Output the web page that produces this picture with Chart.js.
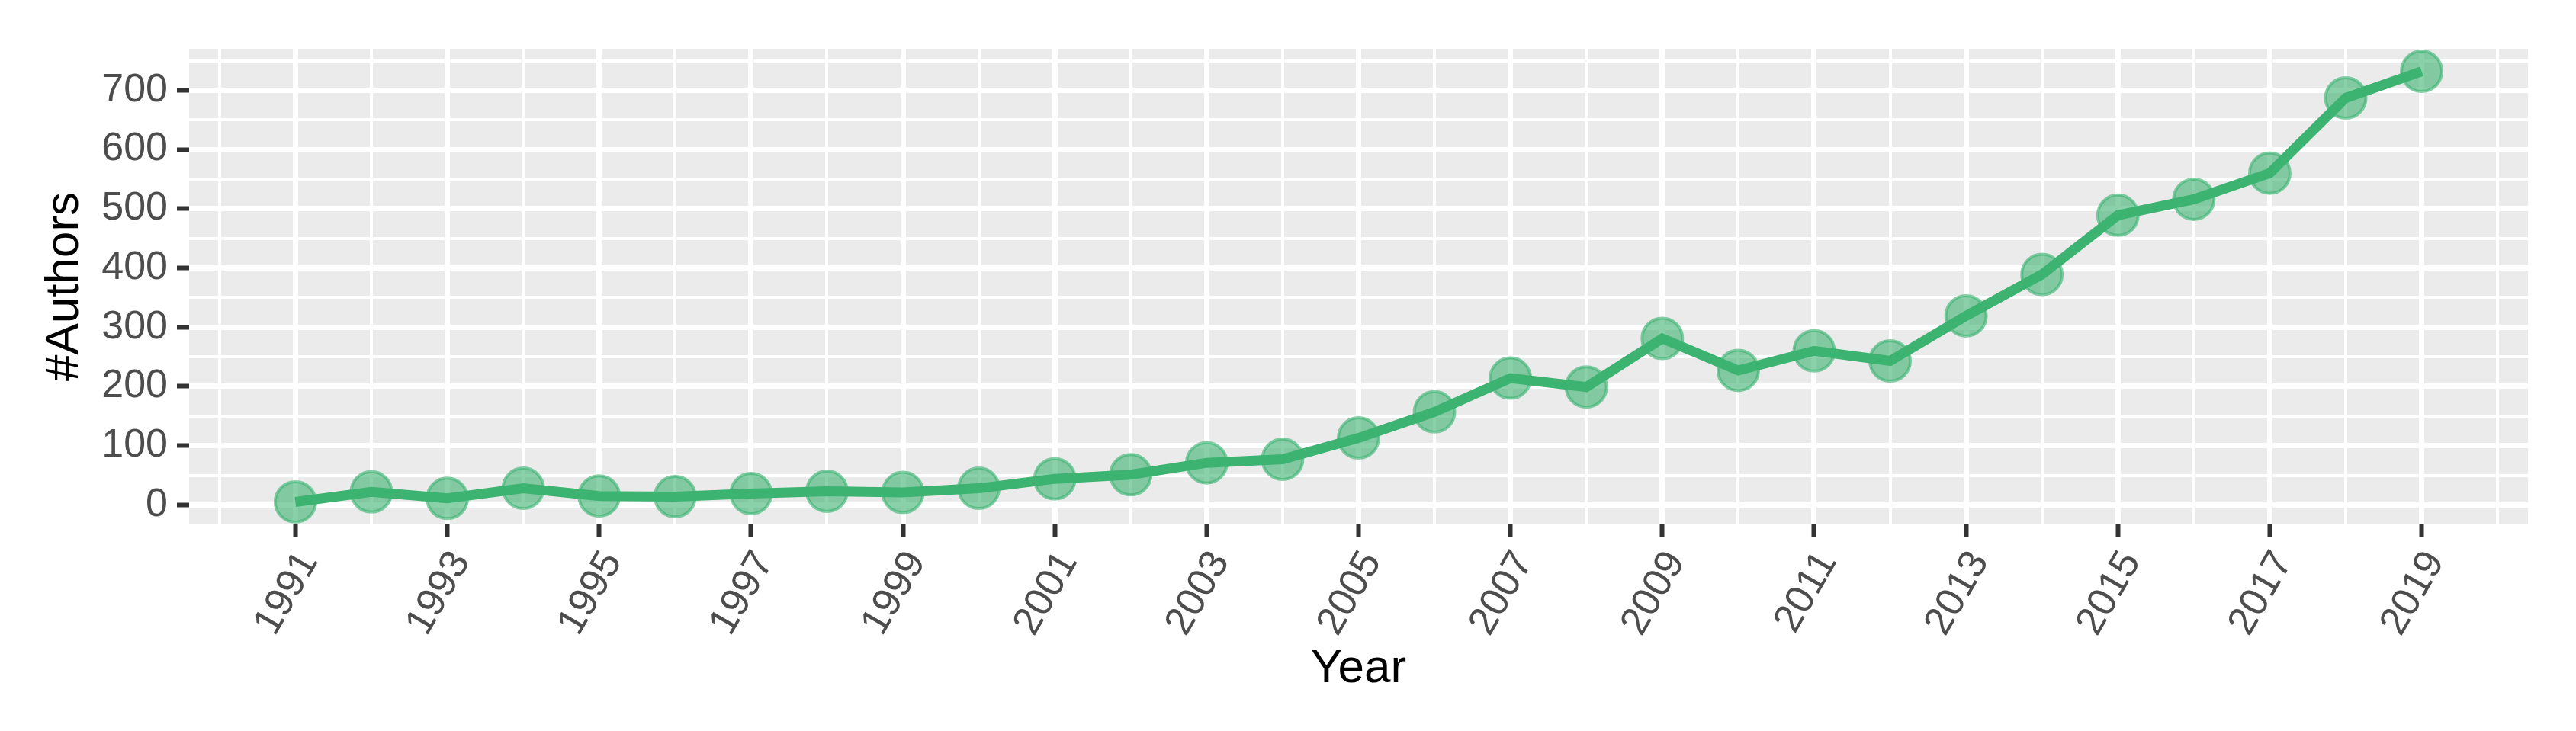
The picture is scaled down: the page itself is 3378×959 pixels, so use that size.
<!DOCTYPE html>
<html>
<head>
<meta charset="utf-8">
<script src="https://cdn.jsdelivr.net/npm/chart.js@4"></script>
<style>
    html, body { margin: 0; padding: 0; background: #ffffff; }
    #wrap { width: 3378px; height: 959px; }
</style>
</head>
<body>
<div id="wrap"><canvas id="grafico"></canvas></div>
<script>
const years = [1991, 1992, 1993, 1994, 1995, 1996, 1997, 1998, 1999, 2000,
    2001, 2002, 2003, 2004, 2005, 2006, 2007, 2008, 2009, 2010,
    2011, 2012, 2013, 2014, 2015, 2016, 2017, 2018, 2019];
const authors = [5, 22, 11, 28, 15, 14, 19, 23, 21, 28,
    44, 51, 71, 77, 113, 157, 214, 199, 281, 227,
    260, 243, 319, 389, 489, 516, 560, 687, 732];

// labelled ticks and the thinner lines between them
const xMajor = [1991, 1993, 1995, 1997, 1999, 2001, 2003, 2005, 2007, 2009, 2011, 2013, 2015, 2017, 2019];
const xMinor = [1990, 1992, 1994, 1996, 1998, 2000, 2002, 2004, 2006, 2008, 2010, 2012, 2014, 2016, 2018, 2020];
const yMajor = [0, 100, 200, 300, 400, 500, 600, 700];
const yMinor = [50, 150, 250, 350, 450, 550, 650, 750];

const fontFamily = '"Liberation Sans", Arial, Helvetica, sans-serif';
const green = '#3CB371';

const points = years.map((y, i) => ({ x: y, y: authors[i] }));

const panelBackground = {
    id: 'panelBackground',
    beforeDraw(chart) {
        const { ctx, chartArea } = chart;
        ctx.save();
        ctx.fillStyle = '#ffffff';
        ctx.fillRect(0, 0, chart.width, chart.height);
        ctx.fillStyle = '#EBEBEB';
        ctx.fillRect(chartArea.left, chartArea.top, chartArea.right - chartArea.left, chartArea.bottom - chartArea.top);
        ctx.restore();
    },
};

function allTicks(major, minor) {
    return major.concat(minor).sort((a, b) => a - b).map((v) => ({ value: v }));
}

function isMajor(ctx, major) {
    return ctx.tick && major.includes(ctx.tick.value);
}

new Chart(document.getElementById('grafico'), {
    type: 'line',
    data: {
        datasets: [
            {
                data: points,
                borderColor: green,
                borderWidth: 13,
                pointRadius: 0,
                tension: 0,
                order: 1,
            },
            {
                data: points,
                showLine: false,
                pointRadius: 26.5,
                pointBorderWidth: 4,
                pointBackgroundColor: 'rgba(60, 179, 113, 0.6)',
                pointBorderColor: 'rgba(60, 179, 113, 0.62)',
                order: 2,
            },
        ],
    },
    options: {
        responsive: true,
        maintainAspectRatio: false,
        devicePixelRatio: 1,
        animation: false,
        layout: { padding: { left: 0, right: 63, top: 64, bottom: 0 } },
        plugins: { legend: { display: false }, tooltip: { enabled: false } },
        scales: {
            x: {
                type: 'linear',
                min: 1989.6,
                max: 2020.4,
                afterBuildTicks: (scale) => { scale.ticks = allTicks(xMajor, xMinor); },
                afterFit: (scale) => { scale.height = 271; },
                border: { display: false },
                grid: {
                    color: '#ffffff',
                    lineWidth: (ctx) => (isMajor(ctx, xMajor) ? 7 : 4),
                    tickLength: 16,
                    tickWidth: 6,
                    tickColor: (ctx) => (isMajor(ctx, xMajor) ? '#333333' : 'rgba(0,0,0,0)'),
                },
                ticks: {
                    autoSkip: false,
                    minRotation: 60,
                    maxRotation: 60,
                    padding: 9,
                    labelOffset: 18,
                    color: '#4D4D4D',
                    font: { family: fontFamily, size: 52 },
                    callback: (value) => (xMajor.includes(value) ? String(value) : ''),
                },
                title: {
                    display: true,
                    text: 'Year',
                    color: '#000000',
                    font: { family: fontFamily, size: 62 },
                    padding: { top: 0, bottom: 44 },
                },
            },
            y: {
                min: -33,
                max: 770,
                afterBuildTicks: (scale) => { scale.ticks = allTicks(yMajor, yMinor); },
                afterFit: (scale) => { scale.width = 248; },
                border: { display: false },
                grid: {
                    color: '#ffffff',
                    lineWidth: (ctx) => (isMajor(ctx, yMajor) ? 7 : 4),
                    tickLength: 16,
                    tickWidth: 6,
                    tickColor: (ctx) => (isMajor(ctx, yMajor) ? '#333333' : 'rgba(0,0,0,0)'),
                },
                ticks: {
                    autoSkip: false,
                    padding: 12,
                    color: '#4D4D4D',
                    font: { family: fontFamily, size: 52 },
                    callback: (value) => (yMajor.includes(value) ? String(value) : ''),
                },
                title: {
                    display: true,
                    text: '#Authors',
                    color: '#000000',
                    font: { family: fontFamily, size: 62 },
                    padding: { top: 48, bottom: 0 },
                },
            },
        },
    },
    plugins: [panelBackground],
});
</script>
</body>
</html>
